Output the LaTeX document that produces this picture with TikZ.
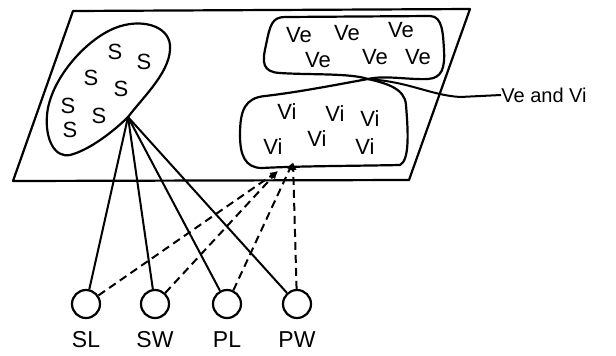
\documentclass[tikz,border=0pt]{standalone}
\usepackage{fontspec}
\setmainfont{Liberation Sans}
\usetikzlibrary{arrows.meta, positioning}

\begin{document}
\begin{tikzpicture}[
		x=0.5pt, y=-0.5pt,
		line join=round,
		outline/.style={line width=1.1pt},
		var/.style={circle, draw, line width=1.1pt, minimum size=14pt, inner sep=0pt},
		lbl/.style={font=\fontsize{11.5}{13}\selectfont},
		elem/.style={font=\fontsize{11}{13}\selectfont, inner sep=0pt},
		link/.style={line width=1pt},
		dep/.style={line width=1pt, dash pattern=on 4pt off 2.5pt,
			-{Latex[length=4pt, width=3.5pt]}}
	]
	\useasboundingbox (0,0) rectangle (616,355);

	% plane
	\draw[outline] (73,11) -- (470,9) -- (409,180) -- (13,181) -- cycle;

	% cusps of the sets
	\coordinate (sv) at (128,117);
	\coordinate (vv) at (368,79);
	\coordinate (vi1) at (278,171);
	\coordinate (vi2) at (293,162);

	% set of S
	\draw[outline] (sv) .. controls (145,95) and (172,70) .. (170,45)
		.. controls (168,25) and (140,18) .. (115,28)
		.. controls (85,40) and (50,80) .. (47,115)
		.. controls (45,140) and (55,158) .. (70,155)
		.. controls (90,150) and (115,130) .. (sv);
	\node[elem] (s1) at (115,52) {S};
	\node[elem] (s2) at (144,62) {S};
	\node[elem] (s3) at (91,78) {S};
	\node[elem] (s4) at (121,89) {S};
	\node[elem] (s5) at (68,106) {S};
	\node[elem] (s6) at (99,116) {S};
	\node[elem] (s7) at (70,130) {S};

	% set of Ve
	\draw[outline] (vv) .. controls (385,75) and (410,80) .. (428,79)
		.. controls (442,78) and (445,68) .. (444,50)
		.. controls (443,35) and (443,16) .. (430,16) -- (285,17)
		.. controls (272,17) and (270,25) .. (266,45)
		.. controls (262,62) and (262,72) .. (280,73)
		.. controls (310,75) and (350,73) .. (vv);
	\node[elem] (ve1) at (299,35) {Ve};
	\node[elem] (ve2) at (347,33) {Ve};
	\node[elem] (ve3) at (401,30) {Ve};
	\node[elem] (ve4) at (318,60) {Ve};
	\node[elem] (ve5) at (375,57) {Ve};
	\node[elem] (ve6) at (418,57) {Ve};

	% set of Vi
	\draw[outline] (vv) .. controls (385,83) and (405,88) .. (406,105)
		.. controls (408,130) and (410,160) .. (400,165)
		.. controls (350,166) and (300,166) .. (262,168)
		.. controls (245,168) and (240,155) .. (240,135)
		.. controls (240,110) and (245,98) .. (265,96)
		.. controls (300,92) and (340,84) .. (vv);
	\node[elem] (vi1t) at (287,112) {Vi};
	\node[elem] (vi2t) at (335,114) {Vi};
	\node[elem] (vi3t) at (370,119) {Vi};
	\node[elem] (vi4t) at (273,147) {Vi};
	\node[elem] (vi5t) at (317,139) {Vi};
	\node[elem] (vi6t) at (365,147) {Vi};

	% leader
	\node[elem, anchor=west, font=\fontsize{10}{12}\selectfont] (both) at (501,95) {Ve and Vi};
	\draw[link] (vv) .. controls (410,82) and (430,95) .. (460,97) -- (both.west);

	% variables
	\node[var] (sl) at (86,304) {};
	\node[var] (sw) at (155,304) {};
	\node[var] (pl) at (227,304) {};
	\node[var] (pw) at (297,304) {};
	\node[lbl] at (86,340) {SL};
	\node[lbl] at (155,340) {SW};
	\node[lbl] at (227,340) {PL};
	\node[lbl] at (297,340) {PW};

	\foreach \v in {sl, sw, pl, pw}
		\draw[link] (sv) -- (\v);
	\draw[dep] (sl) -- (vi1);
	\draw[dep] (sw) -- (vi1);
	\draw[dep] (pl) -- (vi2);
	\draw[dep] (pw) -- (vi2);
\end{tikzpicture}
\end{document}
